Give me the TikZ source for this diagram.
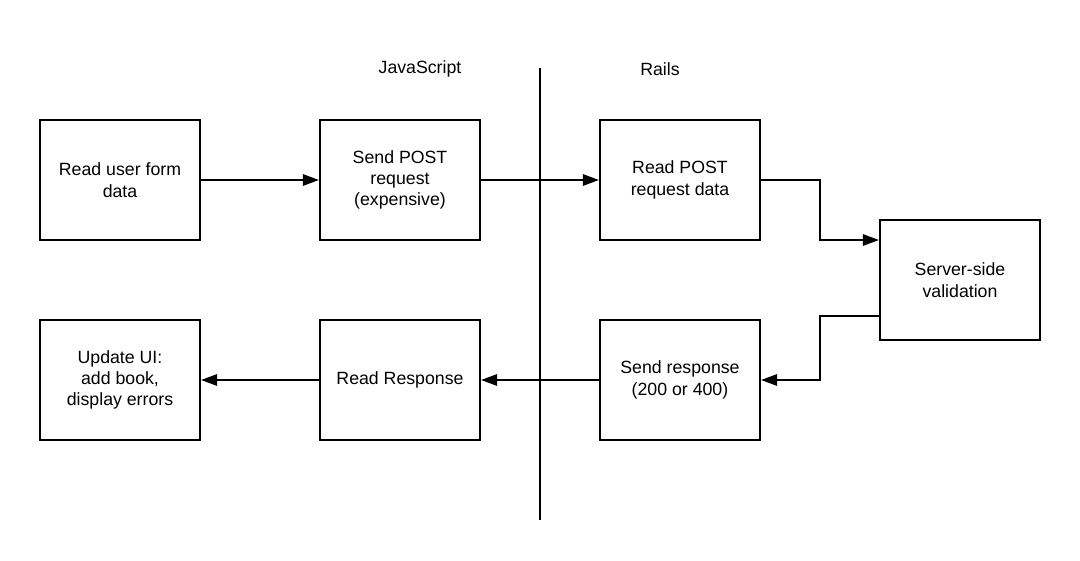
\documentclass[tikz,border=0pt]{standalone}
\usepackage{fontspec}
\setmainfont{Liberation Sans}
\usetikzlibrary{arrows.meta,positioning,calc}

\tikzset{
  stepbox/.style={draw, line width=1.4pt, minimum width=4cm, minimum height=3cm, align=center, inner sep=2pt},
  flow/.style={line width=1.4pt, -{Triangle[length=0.4cm,width=0.28cm]}},
}

\begin{document}
\begin{tikzpicture}[x=0.025cm,y=-0.025cm,font=\fontsize{12.6}{15.2}\selectfont]
\useasboundingbox (0,0) rectangle (1080,560);
% top row
\node[stepbox] (read) at (120,180) {Read user form\\data};
\node[stepbox] (post) at (400,180) {Send POST\\request\\(expensive)};
\node[stepbox] (rpost) at (680,180) {Read POST\\request data};
\node[stepbox] (valid) at (960,280) {Server-side\\validation};
% bottom row
\node[stepbox] (send) at (680,380) {Send response\\(200 or 400)};
\node[stepbox] (resp) at (400,380) {Read Response};
\node[stepbox] (ui) at (120,380) {Update UI:\\add book,\\display errors};
% divider
\coordinate (dtop) at (540,68);
\coordinate (dbot) at (540,520);
\draw[line width=1.4pt] (dtop) -- (dbot);
\node (js) at (420,69) {JavaScript};
\node (rails) at (660,69) {Rails};
% connectors
\draw[flow] (read) -- (post);
\draw[flow] (post) -- (rpost);
\draw[flow] (rpost.east) -- (820,180) -- (820,240) -- (valid.west |- 0,240);
\draw[flow] (valid.west |- 0,316) -- (820,316) -- (820,380) -- (send.east);
\draw[flow] (send) -- (resp);
\draw[flow] (resp) -- (ui);
\end{tikzpicture}
\end{document}
